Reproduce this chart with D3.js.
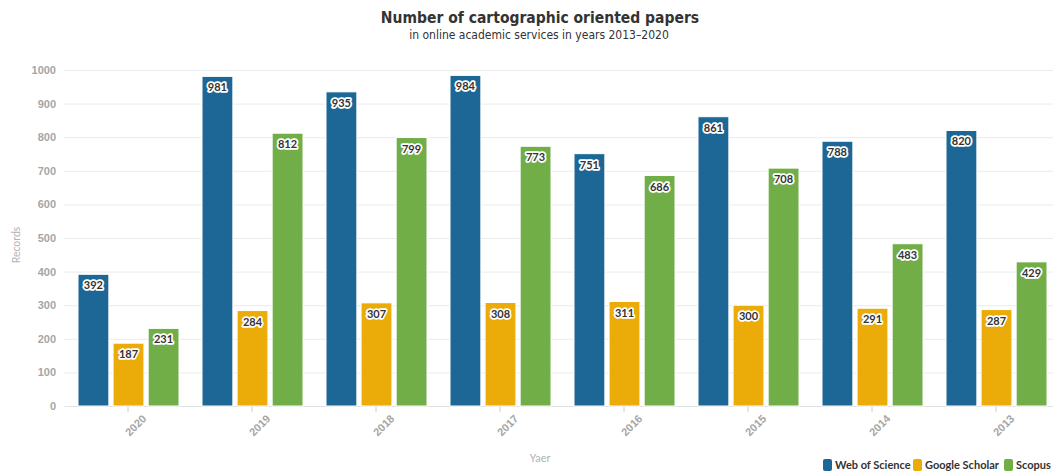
<!DOCTYPE html>
<meta charset="utf-8">
<head>
  <title>Cartographic papers</title>
</head>
<style>
body { margin: 0; background: #fff; }
svg { font-family: Lato, "Open Sans", sans-serif; }
.grid line { stroke: #ebebeb; stroke-width: 1px; }
.grid path { display: none; }
.yaxis text, .xaxis text { fill: #a6a6a6; font-weight: bold; font-size: 11px; }
.yaxis path, .yaxis line { display: none; }
.xaxis path { stroke: #e0e0e0; }
.xaxis line { stroke: #ccc; }
.bar { stroke: #fff; stroke-width: 1px; }
.lbl { font-weight: bold; font-size: 11px; fill: #333; stroke: #fff; stroke-width: 3.5px; paint-order: stroke; stroke-linejoin: round; }
</style>
<body>
  <svg width="1053" height="473"></svg>
  <script src="https://cdnjs.cloudflare.com/ajax/libs/d3/7.8.5/d3.min.js"></script>
  <script>
var years = ['2020', '2019', '2018', '2017', '2016', '2015', '2014', '2013'];
var series = ['Web of Science', 'Google Scholar', 'Scopus'];
var colors = ['#1c6796', '#ebab08', '#72ae48'];
var wos = [392, 981, 935, 984, 751, 861, 788, 820];
var scholar = [187, 284, 307, 308, 311, 300, 291, 287];
var scopus = [231, 812, 799, 773, 686, 708, 483, 429];
var yTicks = [0, 100, 200, 300, 400, 500, 600, 700, 800, 900, 1000];

var values = [wos, scholar, scopus];
var svg = d3.select('svg');

var x = d3.scaleBand().domain(years).range([66, 1058]).paddingInner(0).paddingOuter(0);
var xs = d3.scaleBand().domain(series).range([12, 113]).paddingInner(0.12);
var y = d3.scaleLinear().domain([0, 1000]).range([406, 70]);

// grid
svg.append('g').attr('class', 'grid')
  .attr('transform', 'translate(64,0)')
  .call(d3.axisLeft(y).tickValues(yTicks).tickSize(-1000).tickFormat(''));

// y axis labels
svg.append('g').attr('class', 'yaxis')
  .attr('transform', 'translate(62,0)')
  .call(d3.axisLeft(y).tickValues(yTicks).tickSize(0).tickPadding(6).tickFormat(d3.format('d')));

// x axis
var xa = svg.append('g').attr('class', 'xaxis')
  .attr('transform', 'translate(0,406)')
  .call(d3.axisBottom(x).tickSize(6).tickSizeOuter(0));
xa.selectAll('text')
  .attr('text-anchor', 'end')
  .attr('dx', '4')
  .attr('dy', '14')
  .attr('transform', 'rotate(-45)');

// bars
series.forEach(function(s, i) {
  var g = svg.append('g');
  g.selectAll('rect')
    .data(values[i])
    .enter()
    .append('rect')
    .attr('class', 'bar')
    .attr('x', function(d, j) { return x(years[j]) + xs(s); })
    .attr('y', function(d) { return y(d); })
    .attr('width', xs.bandwidth())
    .attr('height', function(d) { return y(0) - y(d); })
    .attr('fill', colors[i]);
  g.selectAll('text')
    .data(values[i])
    .enter()
    .append('text')
    .attr('class', 'lbl')
    .attr('text-anchor', 'middle')
    .attr('x', function(d, j) { return x(years[j]) + xs(s) + xs.bandwidth() / 2; })
    .attr('y', function(d) { return y(d) + 15; })
    .text(function(d) { return d; });
});

// titles
svg.append('text').attr('x', 540).attr('y', 23).attr('text-anchor', 'middle')
  .style('font-family', '"DejaVu Sans Condensed", "DejaVu Sans"').style('font-weight', 'bold').style('font-size', '15.5px')
  .attr('fill', '#333').text('Number of cartographic oriented papers');
svg.append('text').attr('x', 539).attr('y', 39).attr('text-anchor', 'middle')
  .style('font-family', '"DejaVu Sans Condensed", "DejaVu Sans"').style('font-size', '12px')
  .attr('fill', '#333').text('in online academic services in years 2013\u20132020');

// axis titles
svg.append('text').attr('transform', 'translate(20,245) rotate(-90)')
  .attr('text-anchor', 'middle').style('font-size', '10.5px').attr('fill', '#b3b3b3').text('Records');
svg.append('text').attr('x', 540).attr('y', 462)
  .attr('text-anchor', 'middle').style('font-size', '11px').attr('fill', '#b3b3b3').text('Yaer');

// legend
var legX = [823, 913, 1004];
series.forEach(function(s, i) {
  svg.append('rect').attr('x', legX[i]).attr('y', 459).attr('width', 9).attr('height', 12)
    .attr('rx', 2).attr('fill', colors[i]);
  svg.append('text').attr('x', legX[i] + 12).attr('y', 469)
    .style('font-size', '11px').style('font-weight', 'bold').attr('fill', '#333').text(s);
});
  </script>
</body>
